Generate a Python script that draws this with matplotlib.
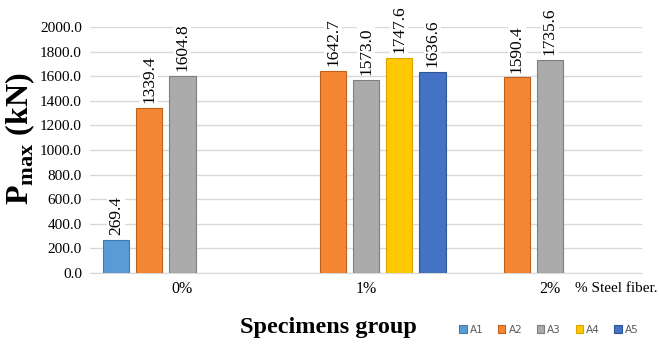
import matplotlib.pyplot as plt
import numpy as np

plt.rcParams['mathtext.fontset'] = 'custom'
plt.rcParams['mathtext.rm'] = 'Liberation Serif'
plt.rcParams['mathtext.bf'] = 'Liberation Serif:bold'

groups = ['0%', '1%', '2%']
series = ['A1', 'A2', 'A3', 'A4', 'A5']
a1 = [269.4, np.nan, np.nan]
a2 = [1339.4, 1642.7, 1590.4]
a3 = [1604.8, 1573.0, 1735.6]
a4 = [np.nan, 1747.6, np.nan]
a5 = [np.nan, 1636.6, np.nan]
values = [a1, a2, a3, a4, a5]
colours = ['#5B9BD5', '#F58634', '#ABABAB', '#FFC800', '#4472C4']
edges = ['#3f7ab0', '#c0601a', '#7f7f7f', '#d9a400', '#2f5597']

fig = plt.figure(figsize=(6.59, 3.47), dpi=100)
ax = fig.add_axes([0.137, 0.213, 0.837, 0.709])

x = np.arange(len(groups))
step = 0.18
width = 0.145
for i, (name, vals) in enumerate(zip(series, values)):
    pos = x + (i - 2) * step
    ax.bar(pos, vals, width, color=colours[i], edgecolor=edges[i],
           linewidth=0.8, label=name, zorder=3)
    for xp, v in zip(pos, vals):
        if np.isnan(v):
            continue
        ax.text(xp, v + 40, f"{v:.1f}", rotation=90, ha='center', va='bottom',
                family='Liberation Serif', fontsize=12.5, zorder=4, clip_on=False,
                bbox=dict(facecolor='white', edgecolor='none', pad=0.5))

ax.set_xlim(-0.5, 2.5)
ax.set_ylim(0, 2000)
ax.set_yticks(np.arange(0, 2001, 200))
ax.set_yticklabels([f"{t:.1f}" for t in np.arange(0, 2001, 200)],
                   family='Liberation Serif', fontsize=11)
ax.set_xticks(x)
ax.set_xticklabels(groups, family='Liberation Serif', fontsize=11.5)
ax.tick_params(length=0, pad=6)
ax.grid(axis='y', color='#d9d9d9', linewidth=1, zorder=0)
for s in ['left', 'right', 'top']:
    ax.spines[s].set_visible(False)
ax.spines['bottom'].set_color('#d9d9d9')

fig.text(0.03, 0.6, r'$\mathbf{P}_{\mathbf{max}}$ (kN)', rotation=90,
         ha='center', va='center', family='Liberation Serif',
         fontweight='bold', fontsize=23)
fig.text(0.498, 0.055, 'Specimens group', ha='center', va='center',
         family='Liberation Serif', fontweight='bold', fontsize=17.5)
fig.text(0.872, 0.17, '% Steel fiber.', ha='left', va='center',
         family='Liberation Serif', fontsize=11)

fig.legend(loc='center', bbox_to_anchor=(0.833, 0.05), ncol=5, frameon=False,
           fontsize=7.5, handlelength=0.7, handleheight=0.7, handletextpad=0.3,
           columnspacing=1.4, labelcolor='#595959')

fig.savefig('out.png', dpi=100)
